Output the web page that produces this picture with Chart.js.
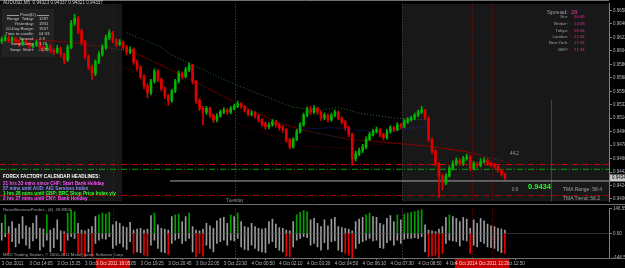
<!DOCTYPE html>
<html><head><meta charset="utf-8">
<script src="https://cdn.jsdelivr.net/npm/chart.js@4.4.1/dist/chart.umd.min.js"></script>
<style>
html,body{margin:0;padding:0;background:#000;width:625px;height:268px;overflow:hidden}
#wrap{position:relative;width:625px;height:268px}
canvas{position:absolute;left:0}
.t{position:absolute;font-family:'Liberation Sans',Arial,sans-serif;white-space:nowrap;line-height:1}
.r{text-align:right}
</style></head><body><div id="wrap">
<canvas id="main" width="625" height="205" style="top:0"></canvas>
<canvas id="ind" width="625" height="63" style="top:205px"></canvas>

<div class="t" style="left:3px;top:1px;font-size:4.6px;color:#d8d8d8">AUDUSD,M5&nbsp;&nbsp;0.94323 0.94337 0.94321 0.94337</div>
<div style="position:absolute;left:7px;top:15px;width:12px;height:1px;background:#9a9a9a"></div>
<div style="position:absolute;left:37px;top:15px;width:12px;height:1px;background:#9a9a9a"></div>
<div class="t" style="left:20px;top:13px;font-size:4.4px;color:#c8c8c8">Pivot(D)</div>
<div class="t r" style="right:591px;top:17px;font-size:4.2px;color:#c8c8c8">Range&nbsp; Today:</div><div class="t" style="left:39px;top:17px;font-size:4.2px;color:#c8c8c8">1287</div>
<div class="t r" style="right:591px;top:22px;font-size:4.2px;color:#c8c8c8">Yesterday:</div><div class="t" style="left:39px;top:22px;font-size:4.2px;color:#c8c8c8">1931</div>
<div class="t r" style="right:591px;top:27px;font-size:4.2px;color:#c8c8c8">10-Day Range:</div><div class="t" style="left:39px;top:27px;font-size:4.2px;color:#c8c8c8">1557</div>
<div class="t r" style="right:591px;top:32px;font-size:4.2px;color:#c8c8c8">Time to candle:</div><div class="t" style="left:39px;top:32px;font-size:4.2px;color:#c8c8c8">04:33</div>
<div class="t r" style="right:591px;top:37px;font-size:4.2px;color:#c8c8c8">Spread:</div><div class="t" style="left:39px;top:37px;font-size:4.2px;color:#c8c8c8">2.9</div>
<div class="t r" style="right:591px;top:42px;font-size:4.2px;color:#c8c8c8">Swap&nbsp; Long:</div><div class="t" style="left:39px;top:42px;font-size:4.2px;color:#c8c8c8">1.70</div>
<div class="t r" style="right:591px;top:48px;font-size:4.2px;color:#c8c8c8">Swap&nbsp; Short:</div><div class="t" style="left:39px;top:48px;font-size:4.2px;color:#c8c8c8">-3.70</div>

<div class="t r" style="right:57px;top:9px;font-size:6px;color:#a898a8">Spread:</div><div class="t" style="left:571px;top:9px;font-size:6px;color:#ff30a0">29</div>
<div class="t r" style="right:57px;top:15px;font-size:4.3px;color:#a0a0a0">Srv:</div><div class="t" style="left:574px;top:15px;font-size:4.3px;color:#e03090">00:08</div>
<div class="t r" style="right:57px;top:22px;font-size:4.3px;color:#a0a0a0">Broker:</div><div class="t" style="left:574px;top:22px;font-size:4.3px;color:#e03090">13:08</div>
<div class="t r" style="right:57px;top:29px;font-size:4.3px;color:#a0a0a0">Tokyo:</div><div class="t" style="left:574px;top:29px;font-size:4.3px;color:#e03090">06:34</div>
<div class="t r" style="right:57px;top:35px;font-size:4.3px;color:#a0a0a0">London:</div><div class="t" style="left:574px;top:35px;font-size:4.3px;color:#e03090">22:34</div>
<div class="t r" style="right:57px;top:41px;font-size:4.3px;color:#a0a0a0">New York:</div><div class="t" style="left:574px;top:41px;font-size:4.3px;color:#e03090">17:34</div>
<div class="t r" style="right:57px;top:48px;font-size:4.3px;color:#a0a0a0">GMT:</div><div class="t" style="left:574px;top:48px;font-size:4.3px;color:#e03090">21:34</div>

<div class="t" style="left:3px;top:175px;font-size:4.7px;font-weight:bold;color:#ffffff">FOREX FACTORY CALENDAR HEADLINES:</div>
<div class="t" style="left:3px;top:181.5px;font-size:4.7px;font-weight:bold;color:#ff50ff">21 hrs 33 mins since CHF: Start Bank Holiday</div>
<div class="t" style="left:3px;top:186.5px;font-size:4.7px;font-weight:bold;color:#8a8aff">57 mins until AUD: AIG Services Index</div>
<div class="t" style="left:3px;top:192px;font-size:4.7px;font-weight:bold;color:#30ff30">1 hrs 28 mins until GBP: BRC Shop Price Index y/y</div>
<div class="t" style="left:3px;top:197px;font-size:4.7px;font-weight:bold;color:#ff50ff">2 hrs 27 mins until CNY: Bank Holiday</div>

<div class="t" style="left:226px;top:199px;font-size:4.6px;color:#909090">Tuesday</div>
<div class="t" style="left:510px;top:152px;font-size:4.5px;color:#a0a0a0">44.2</div>
<div class="t" style="left:512px;top:188px;font-size:4.5px;color:#a0a0a0">0.0</div>
<div class="t" style="left:528px;top:183px;font-size:7.5px;font-weight:bold;color:#20ff20">0.9434</div>
<div class="t" style="left:563px;top:187px;font-size:5px;color:#a0a0a0">TMA Range: 58.4</div>
<div class="t" style="left:563px;top:196px;font-size:5px;color:#a0a0a0">TMA Trend: 56.2</div>

<div class="t" style="left:3px;top:207.5px;font-size:4.3px;color:#a0a0a0">RaiseBearsnwPredict - (4)&nbsp; 49.8902</div>
<div class="t" style="left:3px;top:253px;font-size:4.3px;color:#a0a0a0">MSD Trading Station, © 2000-2011 MetaQuotes Software Corp.</div>
</div>
<script>
// ---- data ----
const opens = [
0.96166,0.96192,0.96218,0.96179,0.96205,0.96153,0.96127,0.96166,0.96140,0.96101,
0.96114,0.96153,0.96088,0.96062,0.96101,0.96049,0.96024,0.96075,0.95998,0.95920,
0.96088,0.96412,0.96477,0.96308,0.96153,0.95959,0.95829,0.95739,0.95894,0.95998,
0.96088,0.96218,0.96283,0.96179,0.96127,0.96153,0.96088,0.96024,0.96062,0.95894,
0.95816,0.95700,0.95570,0.95480,0.95635,0.95765,0.95661,0.95531,0.95441,0.95376,
0.95506,0.95635,0.95739,0.95700,0.95790,0.95842,0.95635,0.95376,0.95272,0.95221,
0.95272,0.95182,0.95117,0.95169,0.95221,0.95247,0.95221,0.95272,0.95298,0.95337,
0.95298,0.95247,0.95195,0.95208,0.95169,0.95117,0.95065,0.95026,0.95052,0.95091,
0.95052,0.95013,0.94988,0.94858,0.94754,0.94858,0.94962,0.95052,0.95182,0.95247,
0.95221,0.95272,0.95221,0.95143,0.95182,0.95117,0.95182,0.95221,0.95143,0.95091,
0.95013,0.94923,0.94599,0.94664,0.94703,0.94754,0.94858,0.94923,0.94962,0.94988,
0.94923,0.94884,0.94962,0.95013,0.94988,0.95052,0.95026,0.95091,0.95117,0.95143,
0.95182,0.95221,0.95247,0.95143,0.94858,0.94703,0.94534,0.94366,0.94275,0.94366,
0.94470,0.94534,0.94573,0.94534,0.94599,0.94625,0.94470,0.94534,0.94508,0.94560,
0.94573,0.94534,0.94521,0.94495,0.94444,0.94392];
const highs = [
0.96225,0.96250,0.96240,0.96230,0.96220,0.96180,0.96195,0.96190,0.96160,0.96140,
0.96185,0.96170,0.96110,0.96130,0.96120,0.96070,0.96110,0.96090,0.96010,0.96120,
0.96450,0.96530,0.96500,0.96330,0.96180,0.95990,0.95850,0.95920,0.96030,0.96120,
0.96250,0.96320,0.96300,0.96200,0.96190,0.96175,0.96110,0.96095,0.96080,0.95920,
0.95840,0.95720,0.95600,0.95660,0.95800,0.95790,0.95680,0.95560,0.95460,0.95530,
0.95660,0.95770,0.95760,0.95820,0.95880,0.95860,0.95650,0.95400,0.95300,0.95300,
0.95290,0.95200,0.95200,0.95250,0.95280,0.95270,0.95300,0.95330,0.95370,0.95350,
0.95310,0.95260,0.95240,0.95230,0.95190,0.95130,0.95090,0.95080,0.95120,0.95110,
0.95070,0.95040,0.95000,0.94870,0.94880,0.94990,0.95080,0.95210,0.95290,0.95300,
0.95310,0.95290,0.95240,0.95210,0.95200,0.95210,0.95250,0.95240,0.95160,0.95110,
0.95030,0.94940,0.94700,0.94740,0.94790,0.94890,0.94950,0.94990,0.95020,0.95000,
0.94940,0.94990,0.95040,0.95030,0.95080,0.95070,0.95120,0.95150,0.95170,0.95210,
0.95250,0.95300,0.95260,0.95160,0.94880,0.94720,0.94550,0.94390,0.94400,0.94500,
0.94570,0.94610,0.94600,0.94630,0.94660,0.94640,0.94560,0.94550,0.94600,0.94610,
0.94600,0.94560,0.94540,0.94510,0.94460,0.94410];
const lows = [
0.96140,0.96170,0.96150,0.96160,0.96130,0.96095,0.96110,0.96120,0.96070,0.96080,
0.96100,0.96060,0.96030,0.96045,0.96020,0.95990,0.96005,0.95960,0.95870,0.95900,
0.96070,0.96380,0.96270,0.96120,0.95930,0.95790,0.95660,0.95710,0.95870,0.95970,
0.96060,0.96190,0.96150,0.96100,0.96110,0.96060,0.95990,0.96000,0.95860,0.95780,
0.95670,0.95530,0.95410,0.95450,0.95610,0.95630,0.95500,0.95400,0.95310,0.95350,
0.95480,0.95610,0.95670,0.95680,0.95760,0.95600,0.95340,0.95240,0.95050,0.95190,
0.95150,0.95080,0.95090,0.95150,0.95200,0.95190,0.95200,0.95250,0.95280,0.95270,
0.95220,0.95170,0.95170,0.95140,0.95090,0.95030,0.94990,0.95000,0.95030,0.95020,
0.94980,0.94950,0.94820,0.94730,0.94740,0.94840,0.94940,0.95030,0.95160,0.95190,
0.95200,0.95190,0.95110,0.95120,0.95090,0.95100,0.95160,0.95120,0.95060,0.94980,
0.94890,0.94510,0.94570,0.94640,0.94680,0.94730,0.94840,0.94900,0.94940,0.94890,
0.94850,0.94860,0.94940,0.94960,0.94970,0.95000,0.95010,0.95070,0.95100,0.95120,
0.95160,0.95200,0.95120,0.94830,0.94670,0.94500,0.94080,0.94180,0.94250,0.94350,
0.94450,0.94510,0.94510,0.94510,0.94580,0.94440,0.94450,0.94480,0.94490,0.94540,
0.94510,0.94490,0.94470,0.94420,0.94370,0.94320];
const closes = [
0.96192,0.96218,0.96179,0.96205,0.96153,0.96127,0.96166,0.96140,0.96101,0.96114,
0.96153,0.96088,0.96062,0.96101,0.96049,0.96024,0.96075,0.95998,0.95920,0.96088,
0.96412,0.96477,0.96308,0.96153,0.95959,0.95829,0.95739,0.95894,0.95998,0.96088,
0.96218,0.96283,0.96179,0.96127,0.96153,0.96088,0.96024,0.96062,0.95894,0.95816,
0.95700,0.95570,0.95480,0.95635,0.95765,0.95661,0.95531,0.95441,0.95376,0.95506,
0.95635,0.95739,0.95700,0.95790,0.95842,0.95635,0.95376,0.95272,0.95221,0.95272,
0.95182,0.95117,0.95169,0.95221,0.95247,0.95221,0.95272,0.95298,0.95337,0.95298,
0.95247,0.95195,0.95208,0.95169,0.95117,0.95065,0.95026,0.95052,0.95091,0.95052,
0.95013,0.94988,0.94858,0.94754,0.94858,0.94962,0.95052,0.95182,0.95247,0.95221,
0.95272,0.95221,0.95143,0.95182,0.95117,0.95182,0.95221,0.95143,0.95091,0.95013,
0.94923,0.94599,0.94664,0.94703,0.94754,0.94858,0.94923,0.94962,0.94988,0.94923,
0.94884,0.94962,0.95013,0.94988,0.95052,0.95026,0.95091,0.95117,0.95143,0.95182,
0.95221,0.95247,0.95143,0.94858,0.94703,0.94534,0.94366,0.94275,0.94366,0.94470,
0.94534,0.94573,0.94534,0.94599,0.94625,0.94470,0.94534,0.94508,0.94560,0.94573,
0.94534,0.94521,0.94495,0.94444,0.94392,0.94340];

const bulls = [
60,110,40,70,30,55,100,45,35,60, 105,30,25,110,20,30,80,15,10,120,
140,130,60,20,15,25,40,100,110,120, 115,125,50,70,60,40,35,65,20,25,
30,20,25,105,120,50,30,25,20,100, 110,115,70,100,120,40,20,15,25,60,
45,30,75,90,95,60,110,100,120,70, 40,35,60,40,30,25,30,70,85,55,
35,30,20,15,70,110,125,135,130,80, 90,60,40,80,45,85,95,40,35,30,
25,15,70,85,95,110,120,100,95,60, 50,90,105,70,110,80,115,120,125,130,
135,140,50,20,15,10,25,40,95,110, 100,90,70,95,85,30,80,60,90,75,
55,45,40,30,25,20];
const bears = [
-40,-20,-120,-50,-80,-60,-30,-70,-90,-45, -30,-100,-80,-40,-110,-85,-35,-105,-130,-40,
-20,-30,-120,-125,-140,-110,-135,-60,-40,-30, -35,-20,-90,-70,-60,-80,-95,-50,-120,-110,
-115,-130,-135,-70,-40,-90,-110,-115,-125,-60, -40,-30,-60,-45,-30,-110,-140,-120,-135,-70,
-90,-110,-60,-50,-40,-70,-40,-45,-30,-80, -95,-100,-70,-90,-105,-110,-115,-60,-50,-85,
-100,-110,-135,-140,-80,-40,-30,-20,-25,-70, -60,-80,-100,-55,-95,-50,-45,-100,-110,-120,
-130,-145,-90,-60,-50,-40,-30,-45,-40,-85, -90,-55,-40,-70,-40,-60,-35,-30,-30,-25,
-30,-20,-110,-140,-135,-130,-145,-120,-60,-40, -45,-50,-75,-40,-45,-120,-70,-80,-50,-60,
-80,-85,-90,-105,-115,-120];

// moving average / band lines (bar index, price)
const maRedBars  = [0,10,20,30,38,48,57,69,78,86,100,110,123,134,145];
const maRedVals  = [0.96179,0.96192,0.96153,0.96088,0.96024,0.95803,0.95596,0.95311,0.95117,0.94988,0.94858,0.94819,0.94767,0.94690,0.94560];
const bandUpBars = [36,46,49,65,74,84,92,97,103,113,123];
const bandUpVals = [0.96283,0.96088,0.95985,0.95635,0.95467,0.95285,0.95247,0.95285,0.95208,0.95143,0.95117];
const bandLoBars = [33,46,60,67,86,100,115,123];
const bandLoVals = [0.95868,0.95635,0.95376,0.95091,0.94767,0.94741,0.94819,0.94858];
const maBlueBars = [85,95,107,115,123];
const maBlueVals = [0.94988,0.95013,0.94962,0.94988,0.95039];
const levelRed1 = 0.94521, levelGreen = 0.94457, levelGray = 0.94301, levelRed2 = 0.94107;

const priceTicks = [0.96580,0.96400,0.96220,0.96040,0.95860,0.95680,0.95500,0.95320,0.95140,0.94960,0.94780,0.94600,0.94420,0.94240,0.94060];
const indTicks = [146.555, 0, -146.555];
const timeLabels = ["3 Oct 2011","3 Oct 14:05","3 Oct 15:25","3 Oct 16:45","3 Oct 18:05","3 Oct 19:25","3 Oct 20:45","3 Oct 22:05","3 Oct 23:30","4 Oct 00:50","4 Oct 02:10","4 Oct 03:30","4 Oct 04:50","4 Oct 06:10","4 Oct 07:30","4 Oct 08:50","4 Oct 10:10","4 Oct 11:30","4 Oct 12:50"];
const BARS_PER_LABEL = 8;
// event / session markers (bar index)
const eventBars = [32.1, 135.5, 141.3];
const eventLabels = ["3 Oct 2011 18:05","4 Oct 2011 11:25","4 Oct 2011 12:20"];
const sessionBars = [67.2, 115.4];
const shadeRanges = [[-0.5, 34.7], [115.4, 175]];
const blueLine = {bar: 158.3, from: 0.95380, to: 0.94030};

// ---- drawing ----
const FONT = "'Liberation Sans', Arial, sans-serif";
const GREEN = '#00b400', RED = '#e00000';
const X_MIN = -0.5, X_MAX = 175;
const Y_MIN = 0.94029, Y_MAX = 0.96671;
const idx = closes.map((_, i) => i);
const isUp = i => closes[i] >= opens[i];
const pts = (bs, vs) => bs.map((b, k) => ({x: b, y: vs[k]}));
const hline = v => [{x: X_MIN, y: v}, {x: X_MAX, y: v}];
const lineDs = (data, color, dash, width, order) => ({type: 'line', data, borderColor: color, borderDash: dash, borderWidth: width || 1, pointRadius: 0, tension: 0, order: order || 5});

function drawVerticals(chart) {
  const {ctx, chartArea: a, scales: {x}} = chart;
  ctx.save();
  ctx.lineWidth = 1;
  ctx.setLineDash([1, 2]);
  ctx.strokeStyle = '#505050';
  sessionBars.forEach(b => { const px = Math.round(x.getPixelForValue(b)) + 0.5; ctx.beginPath(); ctx.moveTo(px, a.top); ctx.lineTo(px, a.bottom); ctx.stroke(); });
  ctx.strokeStyle = '#a00000';
  eventBars.forEach(b => { const px = Math.round(x.getPixelForValue(b)) + 0.5; ctx.beginPath(); ctx.moveTo(px, a.top); ctx.lineTo(px, a.bottom); ctx.stroke(); });
  ctx.restore();
}

const mainDeco = {
  id: 'mainDeco',
  beforeDatasetsDraw(chart) {
    const {ctx, chartArea: a, scales: {x, y}} = chart;
    ctx.save();
    ctx.fillStyle = '#181818';
    shadeRanges.forEach(([s, e]) => { const x0 = x.getPixelForValue(s), x1 = Math.min(x.getPixelForValue(e), a.right); ctx.fillRect(x0, a.top, x1 - x0, a.bottom - a.top); });
    // info panel background (drawn under the candles)
    ctx.fillStyle = '#222222';
    ctx.fillRect(2, 9, 52, 48);
    ctx.restore();
    drawVerticals(chart);
    ctx.save();
    ctx.strokeStyle = '#2030ff'; ctx.lineWidth = 1;
    const bx = Math.round(x.getPixelForValue(blueLine.bar)) + 0.5;
    ctx.beginPath(); ctx.moveTo(bx, y.getPixelForValue(blueLine.from)); ctx.lineTo(bx, y.getPixelForValue(blueLine.to)); ctx.stroke();
    ctx.restore();
  },
  afterDraw(chart) {
    const {ctx, chartArea: a, scales: {y}} = chart;
    ctx.save();
    ctx.strokeStyle = '#707070'; ctx.lineWidth = 1;
    ctx.beginPath(); ctx.moveTo(0, 0.5); ctx.lineTo(a.right, 0.5); ctx.stroke();
    ctx.beginPath(); ctx.moveTo(0, 204.5); ctx.lineTo(625, 204.5); ctx.stroke();
    const last = closes[closes.length - 1];
    const py = y.getPixelForValue(last);
    ctx.fillStyle = '#c8c8c8';
    ctx.fillRect(a.right + 1, py - 3.5, 625 - a.right, 7);
    ctx.fillStyle = '#000';
    ctx.font = '4.5px ' + FONT; ctx.textBaseline = 'middle';
    ctx.fillText(last.toFixed(5), a.right + 3, py);
    ctx.restore();
  }
};

new Chart(document.getElementById('main'), {
  type: 'bar',
  data: {datasets: [
    {type: 'bar', data: idx.map(i => ({x: i, y: [lows[i], highs[i]]})), backgroundColor: c => isUp(c.dataIndex) ? GREEN : RED, barThickness: 1, grouped: false, order: 2},
    {type: 'bar', data: idx.map(i => ({x: i, y: [opens[i], closes[i]]})), backgroundColor: c => isUp(c.dataIndex) ? GREEN : RED, barThickness: 2, minBarLength: 1, grouped: false, order: 1},
    lineDs(pts(maRedBars, maRedVals), '#c00000', [1, 1], 1, 6),
    lineDs(pts(bandUpBars, bandUpVals), '#2f6f2f', [1, 2], 1, 6),
    lineDs(pts(bandLoBars, bandLoVals), '#6a0000', [1, 2], 1, 6),
    lineDs(pts(maBlueBars, maBlueVals), '#2030c0', [1, 2], 1, 6),
    lineDs(hline(levelRed1), '#d00000', [6, 2, 1, 2], 1, 7),
    lineDs(hline(levelGreen), '#00a800', [6, 2, 1, 2], 1, 7),
    lineDs([{x: 48.5, y: levelGray}, {x: X_MAX, y: levelGray}], '#a8a8a8', [], 1, 7),
    lineDs(hline(levelRed2), '#b00000', [6, 2, 1, 2], 1, 7)
  ]},
  options: {
    responsive: false, animation: false, events: [],
    layout: {padding: {top: 0, bottom: 1, left: 0, right: 0}},
    plugins: {legend: {display: false}, tooltip: {enabled: false}},
    scales: {
      x: {type: 'linear', min: X_MIN, max: X_MAX, display: false, offset: false},
      y: {position: 'right', min: Y_MIN, max: Y_MAX,
          afterFit: s => { s.width = 16; },
          afterBuildTicks: s => { s.ticks = priceTicks.map(v => ({value: v})); },
          ticks: {color: '#b8b8b8', font: {family: FONT, size: 4.5}, padding: 1, autoSkip: false, callback: v => Number(v).toFixed(5)},
          grid: {display: true, drawOnChartArea: false, drawTicks: true, tickLength: 3, color: '#808080'},
          border: {display: true, color: '#808080'}}
    }
  },
  plugins: [mainDeco]
});

const indDeco = {
  id: 'indDeco',
  beforeDatasetsDraw(chart) {
    const {ctx, chartArea: a, scales: {y}} = chart;
    drawVerticals(chart);
    ctx.save();
    ctx.strokeStyle = '#303030'; ctx.lineWidth = 1;
    const zy = Math.round(y.getPixelForValue(0)) + 0.5;
    ctx.beginPath(); ctx.moveTo(0, zy); ctx.lineTo(a.right, zy); ctx.stroke();
    ctx.restore();
  },
  afterDraw(chart) {
    const {ctx, chartArea: a, scales: {x}} = chart;
    ctx.save();
    ctx.strokeStyle = '#707070'; ctx.lineWidth = 1;
    ctx.beginPath(); ctx.moveTo(0, a.bottom + 0.5); ctx.lineTo(625, a.bottom + 0.5); ctx.stroke();
    ctx.font = '4.5px ' + FONT; ctx.textBaseline = 'middle'; ctx.textAlign = 'center';
    eventBars.forEach((b, k) => {
      const px = x.getPixelForValue(b);
      ctx.fillStyle = '#c00000';
      ctx.fillRect(px - 17, a.bottom + 1, 34, 63 - a.bottom - 1);
      ctx.fillStyle = '#ffd8d8';
      ctx.fillText(eventLabels[k], px, a.bottom + 5.5);
    });
    ctx.restore();
  }
};

new Chart(document.getElementById('ind'), {
  type: 'bar',
  data: {datasets: [
    {data: idx.map(i => ({x: i, y: bulls[i]})), backgroundColor: c => bulls[c.dataIndex] >= 110 ? '#00a000' : '#9a9a9a', barThickness: 1, grouped: false},
    {data: idx.map(i => ({x: i, y: bears[i]})), backgroundColor: c => bears[c.dataIndex] <= -120 ? '#ee0000' : '#9a9a9a', barThickness: 1, grouped: false}
  ]},
  options: {
    responsive: false, animation: false, events: [],
    layout: {padding: {top: 3, bottom: 0, left: 0, right: 0}},
    plugins: {legend: {display: false}, tooltip: {enabled: false}},
    scales: {
      x: {type: 'linear', min: X_MIN, max: X_MAX, offset: false,
          afterFit: s => { s.height = 10; s.paddingLeft = 0; s.paddingRight = 0; },
          afterBuildTicks: s => { s.ticks = timeLabels.map((_, k) => ({value: k * BARS_PER_LABEL})); },
          ticks: {color: '#b8b8b8', font: {family: FONT, size: 4.5}, align: 'start', maxRotation: 0, autoSkip: false, padding: 1,
                  callback: v => timeLabels[Math.round(v / BARS_PER_LABEL)]},
          grid: {display: true, drawOnChartArea: false, drawTicks: true, tickLength: 2, color: '#808080'},
          border: {display: false}},
      y: {position: 'right', min: -146.555, max: 146.555,
          afterFit: s => { s.width = 16; },
          afterBuildTicks: s => { s.ticks = indTicks.map(v => ({value: v})); },
          ticks: {color: '#b8b8b8', font: {family: FONT, size: 4.5}, padding: 1, autoSkip: false, callback: v => v === 0 ? '0.00' : Number(v).toFixed(3)},
          grid: {display: true, drawOnChartArea: false, drawTicks: true, tickLength: 3, color: '#808080'},
          border: {display: true, color: '#808080'}}
    }
  },
  plugins: [indDeco]
});
</script>
</body></html>
